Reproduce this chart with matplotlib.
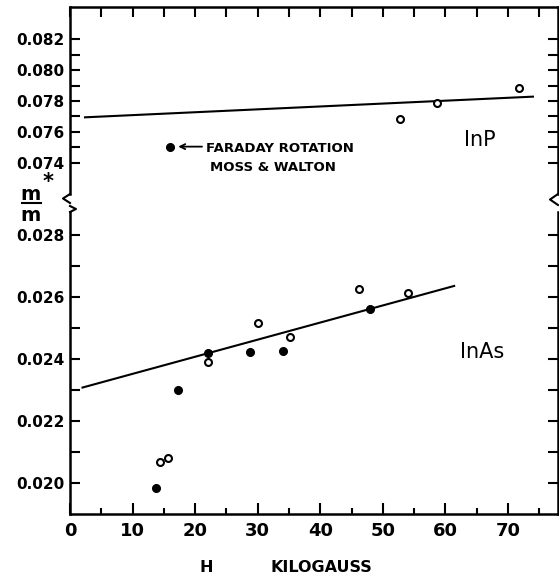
import numpy as np
import matplotlib.pyplot as plt
from matplotlib.lines import Line2D

# InAs (lower panel)
inas_open_h = [14.4, 15.7, 22.0, 30.0, 35.1, 46.2, 54.0]
inas_open_m = [0.02068, 0.02080, 0.02391, 0.02515, 0.02470, 0.02624, 0.02613]
inas_filled_h = [13.8, 17.3, 22.0, 28.8, 34.1, 47.9]
inas_filled_m = [0.01986, 0.02300, 0.02418, 0.02423, 0.02426, 0.02562]
inas_fit_h = [2.0, 61.4]
inas_fit_m = [0.02308, 0.02635]

# InP (upper panel)
inp_open_h = [52.8, 58.6, 71.8]
inp_open_m = [0.07683, 0.07785, 0.07882]
inp_fit_h = [2.4, 74.0]
inp_fit_m = [0.07694, 0.07828]
faraday_h = [16.0]
faraday_m = [0.07504]

# ticks
x_major = [0, 10, 20, 30, 40, 50, 60, 70]
x_minor = [5, 15, 25, 35, 45, 55, 65, 75]
top_y_major = [0.074, 0.076, 0.078, 0.080, 0.082]
top_y_minor = [0.075, 0.077, 0.079, 0.081]
bot_y_major = [0.020, 0.022, 0.024, 0.026, 0.028]
bot_y_minor = [0.021, 0.023, 0.025, 0.027]

plt.rcParams["font.family"] = "DejaVu Sans"
plt.rcParams["font.weight"] = "bold"

W, H = 559, 581


def fx(x):
    return x / W


def fy(y):
    return 1 - y / H


fig = plt.figure(figsize=(W / 100, H / 100), dpi=100)
ax_top = fig.add_axes([fx(70), fy(194), fx(558) - fx(70), fy(7) - fy(194)])
ax_bot = fig.add_axes([fx(70), fy(514), fx(558) - fx(70), fy(212) - fy(514)])

lw = 1.8
for ax in (ax_top, ax_bot):
    ax.set_xlim(0, 78)
    for s in ax.spines.values():
        s.set_linewidth(lw)
ax_top.spines["bottom"].set_visible(False)
ax_bot.spines["top"].set_visible(False)
ax_top.set_ylim(0.07197, 0.08409)
ax_bot.set_ylim(0.01901, 0.02873)

# upper panel
ax_top.plot(inp_fit_h, inp_fit_m, color="k", lw=1.5)
ax_top.plot(inp_open_h, inp_open_m, "o", ms=5, mfc="white", mec="k", mew=1.5)
ax_top.plot(faraday_h, faraday_m, "o", ms=5.5, color="k")
ax_top.annotate("", xy=(faraday_h[0] + 1.3, faraday_m[0]),
                xytext=(faraday_h[0] + 5.1, faraday_m[0]),
                arrowprops=dict(arrowstyle="->", lw=1.3, shrinkA=0, shrinkB=0,
                                mutation_scale=9))
ax_top.text(faraday_h[0] + 5.8, faraday_m[0] - 0.0001, "FARADAY ROTATION",
            fontsize=9.5, va="center", ha="left")
ax_top.text(faraday_h[0] + 6.4, faraday_m[0] - 0.00138, "MOSS & WALTON",
            fontsize=9.5, va="center", ha="left")
ax_top.text(62.9, 0.07547, "InP", fontsize=15, weight="normal", va="center")

ax_top.set_xticks(x_major + x_minor)
ax_top.tick_params(axis="x", bottom=False, top=True, labelbottom=False,
                   direction="in", length=7, width=1.5)
ax_top.set_yticks(top_y_major)
ax_top.set_yticks(top_y_minor, minor=True)
ax_top.set_yticklabels([f"{v:.3f}" for v in top_y_major])

# lower panel
ax_bot.plot(inas_fit_h, inas_fit_m, color="k", lw=1.5)
ax_bot.plot(inas_open_h, inas_open_m, "o", ms=5, mfc="white", mec="k", mew=1.5)
ax_bot.plot(inas_filled_h, inas_filled_m, "o", ms=5.5, color="k")
ax_bot.text(62.4, 0.02422, "InAs", fontsize=15, weight="normal", va="center")

ax_bot.set_xticks(x_major)
ax_bot.set_xticks(x_minor, minor=True)
ax_bot.set_xticklabels([str(v) for v in x_major])
ax_bot.tick_params(axis="x", which="major", direction="in", length=8, width=1.5,
                   labelsize=13, pad=6)
ax_bot.tick_params(axis="x", which="minor", direction="in", length=4.5, width=1.5)
ax_bot.set_yticks(bot_y_major)
ax_bot.set_yticks(bot_y_minor, minor=True)
ax_bot.set_yticklabels([f"{v:.3f}" for v in bot_y_major])

for ax in (ax_top, ax_bot):
    ax.tick_params(axis="y", which="both", direction="in", left=True, right=True,
                   length=7.5, width=1.5, labelsize=11, pad=4)

# axis break marks
fig.add_artist(Line2D([fx(70), fx(63), fx(70)], [fy(194), fy(198.5), fy(203)],
                      color="k", lw=1.5))
fig.add_artist(Line2D([fx(70), fx(76), fx(70)], [fy(206), fy(209), fy(212)],
                      color="k", lw=1.5))
fig.add_artist(Line2D([fx(558), fx(550), fx(558)], [fy(194), fy(199.5), fy(205)],
                      color="k", lw=1.5))

# y label m*/m
fig.text(fx(31), fy(200), "m", fontsize=14, ha="center", va="baseline")
fig.text(fx(48), fy(182), "*", fontsize=15, ha="center", va="center")
fig.add_artist(Line2D([fx(22), fx(41)], [fy(203), fy(203)], color="k", lw=1.5))
fig.text(fx(31), fy(221), "m", fontsize=14, ha="center", va="baseline")

# x label
fig.text(fx(206), fy(568), "H", fontsize=11.5, ha="center", va="center")
fig.text(fx(321), fy(568), "KILOGAUSS", fontsize=11.5, ha="center", va="center")

plt.savefig("out.png", dpi=100)
